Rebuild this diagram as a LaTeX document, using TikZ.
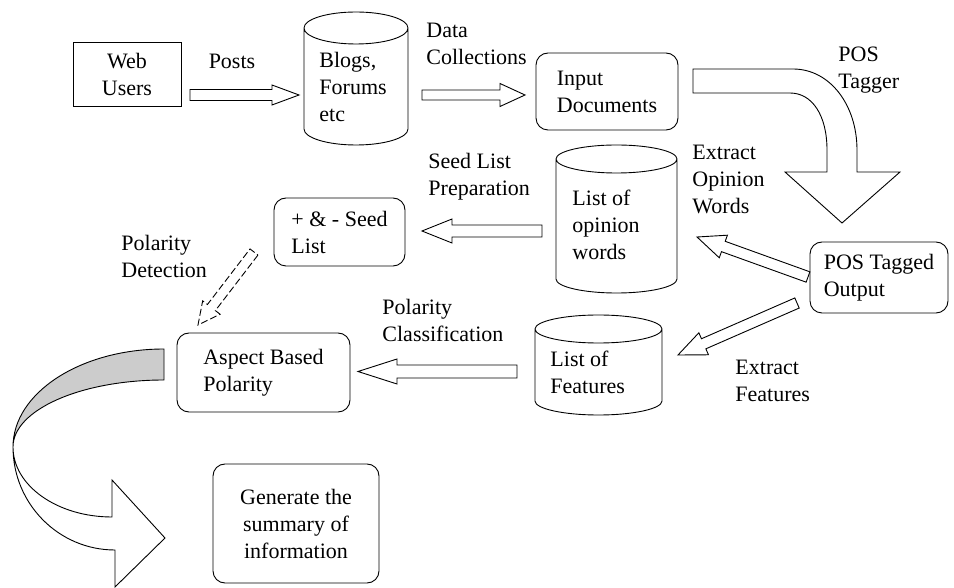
\documentclass[tikz,border=0pt]{standalone}
\usepackage{fontspec}
\setmainfont{Liberation Serif}
\usetikzlibrary{calc}
\tikzset{
  base/.style={font=\fontsize{22}{27}\selectfont},
  rbox/.style={base, draw, rounded corners=12pt, align=left, inner sep=0pt, outer sep=0pt},
  sbox/.style={base, draw, align=center, inner sep=0pt, outer sep=0pt},
  cylnode/.style={draw=none, inner sep=0pt, outer sep=0pt},
  lbl/.style={base, anchor=west, align=left, inner sep=0pt},
  barrowstyle/.style={draw, fill=white, line join=miter},
}
% block arrow: [opts]{from}{to}{shaft half width}{head half width}{head length}
\newcommand\barrow[6][]{%
  \coordinate (bh) at ($(#3)!#6!(#2)$);
  \draw[barrowstyle,#1] ($(#2)!#4!90:(#3)$) -- ($(bh)!#4!90:(#3)$) -- ($(bh)!#5!90:(#3)$) -- (#3)
    -- ($(bh)!#5!-90:(#3)$) -- ($(bh)!#4!-90:(#3)$) -- ($(#2)!#4!-90:(#3)$) -- cycle;}
% cylinder drawn round a node: {node}{ellipse y radius}
\newcommand\cyl[2]{%
  \draw let \p1=(#1.north west), \p2=(#1.south east), \n1={(\x2-\x1)/2} in
    (\x1,\y1-#2pt) -- (\x1,\y2+#2pt) arc[start angle=180,end angle=360,x radius=\n1,y radius=#2pt]
    -- (\x2,\y1-#2pt) arc[start angle=0,end angle=180,x radius=\n1,y radius=#2pt] -- cycle
    (\x1,\y1-#2pt) arc[start angle=180,end angle=360,x radius=\n1,y radius=#2pt];}
\begin{document}
\begin{tikzpicture}[x=1pt,y=1pt,line width=0.9pt]
\useasboundingbox (0,0) rectangle (954,587);

% boxes
\node[sbox, minimum width=108pt, minimum height=64pt] (web) at (127,513) {Web\\Users};
\node[rbox, minimum width=142pt, minimum height=77pt] (input) at (607,495.5) {Input\\Documents};
\node[rbox, minimum width=138pt, minimum height=71pt] (tagged) at (879,309.5) {POS Tagged\\Output};
\node[rbox, minimum width=131pt, minimum height=68pt] (seed) at (339.5,355) {+ \& - Seed\\List};
\node[rbox, minimum width=173pt, minimum height=79pt] (aspect) at (263.5,214.5) {Aspect Based\\Polarity};
\node[rbox, align=center, minimum width=166pt, minimum height=119pt] (summary) at (296,63.5) {Generate the\\summary of\\information};

% cylinders
\node[cylnode, minimum width=104pt, minimum height=133pt] (blogs) at (356,508.5) {};
\cyl{blogs}{16}
\node[lbl] (blogst) at (319,500) {Blogs,\\Forums\\etc};
\node[cylnode, minimum width=121pt, minimum height=148pt] (opinion) at (616.5,368) {};
\cyl{opinion}{14}
\node[lbl] (opiniont) at (572,362) {List of\\opinion\\words};
\node[cylnode, minimum width=127pt, minimum height=100pt] (features) at (598.5,222) {};
\cyl{features}{14}
\node[lbl] (featurest) at (550,214.5) {List of\\Features};

% labels
\node[base, inner sep=0pt] (lposts) at (232,526) {Posts};
\node[lbl] (ldata) at (426,543.5) {Data\\Collections};
\node[lbl] (lpos) at (838,516.5) {POS\\Tagger};
\node[lbl] (lextop) at (692,408) {Extract\\Opinion\\Words};
\node[lbl] (lseed) at (428,410.5) {Seed List\\Preparation};
\node[lbl] (lpdet) at (121,330.5) {Polarity\\Detection};
\node[lbl] (lpcls) at (382,267) {Polarity\\Classification};
\node[lbl] (lextf) at (735,206.5) {Extract\\Features};

% block arrows
\coordinate (a1) at (190,492); \coordinate (b1) at (299,492);
\barrow{a1}{b1}{5.5pt}{10pt}{27pt}
\coordinate (a2) at (422,492); \coordinate (b2) at (525,492);
\barrow{a2}{b2}{5pt}{11.5pt}{25pt}
\coordinate (a3) at (808,310); \coordinate (b3) at (697,350);
\barrow{a3}{b3}{5.5pt}{12pt}{28pt}
\coordinate (a4) at (797,284); \coordinate (b4) at (678,232);
\barrow{a4}{b4}{5.5pt}{12pt}{28pt}
\coordinate (a5) at (542,356); \coordinate (b5) at (422,356);
\barrow{a5}{b5}{6pt}{12pt}{30pt}
\coordinate (a6) at (517,215.5); \coordinate (b6) at (358,215.5);
\barrow{a6}{b6}{6.5pt}{12.5pt}{39pt}
\coordinate (a7) at (254,335); \coordinate (b7) at (198,262);
\barrow[dash pattern=on 7pt off 3pt]{a7}{b7}{5pt}{11pt}{22pt}

% POS tagger curved arrow
\draw[barrowstyle] (693,518) -- (793,518) .. controls (830,518) and (857,482) .. (857,437)
  -- (857,415) -- (900,415) -- (842,364) -- (785,415) -- (827,415) -- (827,437)
  .. controls (827,472) and (812,494) .. (790,494) -- (693,494) -- cycle;

% bottom-left curved arrow
\draw[barrowstyle, fill=gray!40] (164,238) arc[start angle=90,end angle=180,x radius=151,y radius=98]
  arc[start angle=180,end angle=90,x radius=151,y radius=67] -- cycle;
\draw[barrowstyle] (13,140) arc[start angle=180,end angle=270,x radius=99,y radius=70]
  -- (112,107) -- (165,49) -- (115,0) -- (115,37)
  arc[start angle=270,end angle=180,x radius=102,y radius=103] -- cycle;
\end{tikzpicture}
\end{document}
